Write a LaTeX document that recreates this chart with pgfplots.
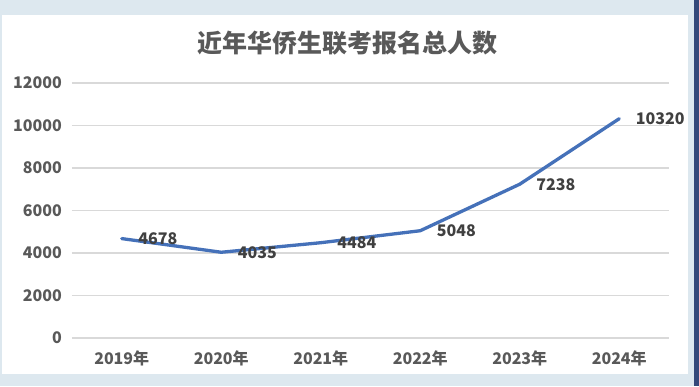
\documentclass[border=0pt]{standalone}
\usepackage{pgfplots}
\pgfplotsset{compat=1.18}
\usepackage{fontspec}
\setmainfont{Noto Sans CJK SC}
\definecolor{outerbg}{HTML}{DDE8EF}
\definecolor{darkstrip}{HTML}{34497A}
\definecolor{linecol}{HTML}{4571B9}
\definecolor{gridcol}{HTML}{D9D9D9}
\definecolor{ticktext}{HTML}{595959}
\definecolor{labeltext}{HTML}{404040}
\begin{document}
\begin{tikzpicture}
\fill[outerbg] (0,0) rectangle (699pt,386pt);
\fill[darkstrip] (694pt,0) rectangle (699pt,386pt);
\fill[white] (2pt,12pt) rectangle (688pt,371pt);
\node[font=\fontsize{25}{28}\selectfont\bfseries, text=ticktext] at (347pt,343pt) {近年华侨生联考报名总人数};
\begin{axis}[
  at={(72pt,48pt)}, anchor=south west,
  scale only axis, width=597pt, height=255pt,
  xmin=-0.5, xmax=5.5, ymin=0, ymax=12000,
  xtick={0,1,2,3,4,5},
  xticklabels={2019年,2020年,2021年,2022年,2023年,2024年},
  ytick={0,2000,4000,6000,8000,10000,12000},
  scaled y ticks=false,
  /pgf/number format/.cd, 1000 sep={}, assume math mode=true, /pgfplots/.cd,
  axis line style={draw=none},
  major tick length=0pt,
  ymajorgrids, grid style={gridcol, line width=1.1pt},
  yticklabel style={font=\fontsize{16}{18}\selectfont\bfseries, text=ticktext, anchor=east, inner sep=0pt, xshift=-10pt},
  xticklabel style={font=\fontsize{16}{18}\selectfont\bfseries, text=ticktext, anchor=base, inner sep=0pt, yshift=-26pt},
  clip=false,
]
\addplot[draw=linecol, line width=3.3pt, line join=round, line cap=round,
  nodes near coords,
  every node near coord/.append style={anchor=west, xshift=15pt, inner sep=0pt, text=labeltext, font=\fontsize{16}{18}\selectfont\bfseries},
] coordinates {(0,4678)(1,4035)(2,4484)(3,5048)(4,7238)(5,10320)};
\end{axis}
\pgfresetboundingbox
\path (0,0) rectangle (699pt,386pt);
\end{tikzpicture}
\end{document}
